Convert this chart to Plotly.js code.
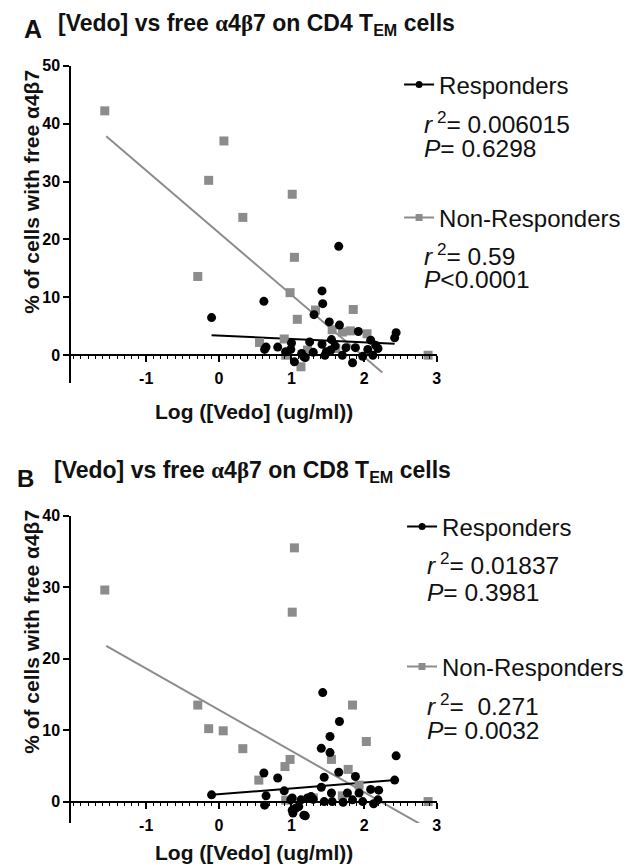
<!DOCTYPE html>
<html><head><meta charset="utf-8">
<script src="https://cdn.plot.ly/plotly-3.0.1.min.js"></script>
<style>html,body{margin:0;padding:0;background:#fff}</style>
</head><body><div id="chart" style="width:629px;height:868px"></div>
<script>
// ---------- Panel A: CD4 TEM ----------
const aRespX = [-0.10,0.62,1.31,1.42,1.43,1.65,1.52,1.66,1.92,2.44,2.42,2.09,2.16,2.19,2.12,1.98,1.84,1.88,1.75,1.70,1.55,1.54,1.42,1.46,1.25,1.14,1.19,1.04,1.00,0.99,0.92,0.81,0.65,1.17,1.48,1.60,2.05,1.30,0.63];
const aRespY = [6.5,9.3,7.0,11.1,8.9,18.8,5.75,5.2,4.1,3.9,3.0,2.6,1.7,1.15,0.0,-0.2,-1.3,1.3,1.3,0.0,2.7,0.9,1.9,0.0,2.3,0.3,-0.4,-1.15,2.1,1.0,0.6,1.4,1.4,-0.3,0.6,1.6,1.0,0.5,1.0];
const aNonX = [-1.57,0.07,-0.14,1.01,0.33,-0.29,1.04,0.98,1.08,0.56,0.90,1.13,1.85,1.33,1.56,1.70,1.81,2.04,0.92,1.61,1.22,2.88];
const aNonY = [42.2,37.0,30.2,27.8,23.8,13.6,16.9,10.8,6.2,2.2,2.8,-2.0,7.9,7.8,4.4,4.0,4.2,3.7,0.0,1.15,0.9,0.0];
const aRespFitX = [-0.10, 2.42];
const aRespFitY = [3.45, 2.0];
const aNonFitX = [-1.55, 2.25];
const aNonFitY = [37.8, -3.0];
const aStats = ["<i>r</i><sup> 2</sup>= 0.006015", "<i>P</i>= 0.6298", "<i>r</i><sup> 2</sup>= 0.59", "<i>P</i>&lt;0.0001"];

// ---------- Panel B: CD8 TEM ----------
const bRespX = [-0.10,0.62,0.81,0.90,0.65,0.63,1.01,1.19,1.10,1.22,1.01,1.43,1.66,1.53,1.41,1.53,2.44,1.65,1.88,1.45,2.42,1.41,1.27,1.13,0.99,1.06,1.17,1.02,1.55,1.45,1.56,1.71,1.77,1.84,1.93,1.98,2.09,2.20,2.19,2.13,1.30];
const bRespY = [0.94,4.0,3.3,1.5,0.8,-0.5,-1.2,-2.0,-0.7,0.5,0.5,15.25,11.2,9.1,7.45,6.85,6.4,4.1,3.5,3.4,3.0,2.0,0.7,0.24,0.24,-0.9,-1.9,-1.6,1.2,0.0,0.0,-0.1,1.2,0.24,1.2,0.0,1.7,1.6,0.24,-0.3,0.3];
const bNonX = [-1.57,1.04,1.01,-0.29,-0.14,0.06,0.33,0.98,0.91,0.55,0.92,1.84,2.03,1.55,1.78,1.93,2.88,1.30,1.70];
const bNonY = [29.6,35.5,26.5,13.5,10.2,9.9,7.4,5.9,4.9,3.0,0.2,13.5,8.4,5.9,4.5,2.3,0.0,0.5,0.8];
const bRespFitX = [-0.10, 2.43];
const bRespFitY = [0.94, 3.0];
const bNonFitX = [-1.55, 2.85];
const bNonFitY = [21.8, -3.6];
const bStats = ["<i>r</i><sup> 2</sup>= 0.01837", "<i>P</i>= 0.3981", "<i>r</i><sup> 2</sup>=  0.271", "<i>P</i>= 0.0032"];

const seriesNames = ["Responders", "Non-Responders"];
const xTicks = [-1, 0, 1, 2, 3];
const xTickText = ["-1", "0", "1", "2", "3"];
const aYTicks = [0, 10, 20, 30, 40, 50];
const bYTicks = [0, 10, 20, 30, 40];
const xTitle = "Log ([Vedo] (ug/ml))";
const yTitle = "% of cells with free α4β7";
const ab = '<span style="font-family:\'Liberation Serif\',serif">α</span>4<span style="font-family:\'Liberation Serif\',serif">β</span>7';
const titleA = "[Vedo] vs free " + ab + " on CD4 T<sub>EM</sub> cells";
const titleB = "[Vedo] vs free " + ab + " on CD8 T<sub>EM</sub> cells";

// ---------- styling ----------
const FONT = "Liberation Sans, Arial, sans-serif";
const GRAY = "#8c8c8c";
const W = 629, H = 868;
const px2x = p => p / W;
const px2y = p => 1 - p / H;

const domX = [px2x(71.7), px2x(438.9)];
const domA = [px2y(383), px2y(65.7)];
const domB = [px2y(823), px2y(515.7)];
const rngX = [-2.03, 3.0];
const rngA = [-4.8, 50];
const rngB = [-3.0, 40];
const zeroPos = (dom, rng) => dom[0] + (0 - rng[0]) / (rng[1] - rng[0]) * (dom[1] - dom[0]);
const bold = v => "<b>" + v + "</b>";

function xAxis(dom, rng) {
  return {
    domain: domX, range: rngX, anchor: "free", position: zeroPos(dom, rng),
    tickmode: "array", tickvals: xTicks, ticktext: xTickText.map(bold),
    ticks: "outside", ticklen: 6, tickwidth: 2, tickcolor: "#000",
    showline: true, linewidth: 2, linecolor: "#000", showgrid: false, zeroline: false,
    minor: {dtick: 0.1, ticks: "outside", ticklen: 3, tickwidth: 1, tickcolor: "#000", showgrid: false},
    tickfont: {family: FONT, size: 16, color: "#000"},
    ticklabelstandoff: 3, fixedrange: true
  };
}
function yAxis(dom, rng, tv, xa) {
  return {
    domain: dom, range: rng, anchor: xa, tickmode: "array", tickvals: tv, ticktext: tv.map(bold),
    ticks: "outside", ticklen: 6, tickwidth: 2,
    tickcolor: "#000", showline: true, linewidth: 2, linecolor: "#000", showgrid: false, zeroline: false,
    tickfont: {family: FONT, size: 16, color: "#000"}, fixedrange: true
  };
}

const mkResp = (x, y, xa, ya) => ({type: "scatter", mode: "markers", x: x, y: y, xaxis: xa, yaxis: ya,
  marker: {symbol: "circle", size: 9, color: "#000"}, showlegend: false, cliponaxis: false});
const mkNon = (x, y, xa, ya) => ({type: "scatter", mode: "markers", x: x, y: y, xaxis: xa, yaxis: ya,
  marker: {symbol: "square", size: 9, color: GRAY}, showlegend: false, cliponaxis: false});
const mkFit = (x, y, xa, ya, c) => ({type: "scatter", mode: "lines", x: x, y: y, xaxis: xa, yaxis: ya,
  line: {color: c, width: 2}, showlegend: false, hoverinfo: "skip"});
const mkLeg = (name, sym, c, leg, xa, ya) => ({type: "scatter", mode: "lines+markers", x: [null], y: [null],
  xaxis: xa, yaxis: ya, name: name, legend: leg, showlegend: true,
  marker: {symbol: sym, size: 7, color: c}, line: {color: c, width: 2}});

const data = [
  mkFit(aNonFitX, aNonFitY, "x", "y", GRAY),
  mkFit(aRespFitX, aRespFitY, "x", "y", "#000"),
  mkNon(aNonX, aNonY, "x", "y"),
  mkResp(aRespX, aRespY, "x", "y"),
  mkFit(bNonFitX, bNonFitY, "x2", "y2", GRAY),
  mkFit(bRespFitX, bRespFitY, "x2", "y2", "#000"),
  mkNon(bNonX, bNonY, "x2", "y2"),
  mkResp(bRespX, bRespY, "x2", "y2"),
  mkLeg(seriesNames[0], "circle", "#000", "legend", "x", "y"),
  mkLeg(seriesNames[1], "square", GRAY, "legend2", "x", "y"),
  mkLeg(seriesNames[0], "circle", "#000", "legend3", "x2", "y2"),
  mkLeg(seriesNames[1], "square", GRAY, "legend4", "x2", "y2")
];

const legBase = (x, y) => ({x: px2x(x), y: px2y(y), xanchor: "left", yanchor: "middle",
  bgcolor: "rgba(0,0,0,0)", borderwidth: 0, itemwidth: 30,
  font: {family: FONT, size: 24, color: "#111"}, itemclick: false});

const txt = (text, x, y, size, opts) => Object.assign({text: text, x: px2x(x), y: px2y(y), xref: "paper", yref: "paper",
  showarrow: false, xanchor: "left", yanchor: "middle", font: {family: FONT, size: size, color: "#111"}}, opts || {});

const annotations = [
  txt(bold("A"), 22, 29, 25),
  txt(bold(titleA), 56, 25, 23),
  txt(bold("B"), 15, 478, 24),
  txt(bold(titleB), 52, 471, 23),
  txt(aStats[0], 424, 122, 24.5), txt(aStats[1], 424, 148, 24.5),
  txt(aStats[2], 424, 254, 24.5), txt(aStats[3], 424, 280, 24.5),
  txt(bStats[0], 427, 563, 24.5), txt(bStats[1], 427, 592, 24.5),
  txt(bStats[2], 427, 704, 24.5), txt(bStats[3], 427, 730, 24.5),
  txt(bold(xTitle), 255, 411, 21, {xanchor: "center"}),
  txt(bold(xTitle), 255, 852, 21, {xanchor: "center"}),
  txt(bold(yTitle), 31, 192, 21, {xanchor: "center", textangle: -90}),
  txt(bold(yTitle), 31, 632, 21, {xanchor: "center", textangle: -90})
];

const layout = {
  width: W, height: H, margin: {l: 0, r: 0, t: 0, b: 0},
  paper_bgcolor: "#fff", plot_bgcolor: "#fff",
  font: {family: FONT, color: "#000"},
  xaxis: xAxis(domA, rngA), yaxis: yAxis(domA, rngA, aYTicks, "x"),
  xaxis2: xAxis(domB, rngB), yaxis2: yAxis(domB, rngB, bYTicks, "x2"),
  legend: legBase(401, 85), legend2: legBase(401, 218),
  legend3: legBase(404, 527), legend4: legBase(404, 667),
  annotations: annotations, showlegend: true
};

Plotly.newPlot("chart", data, layout, {staticPlot: true, displayModeBar: false});
</script></body></html>
